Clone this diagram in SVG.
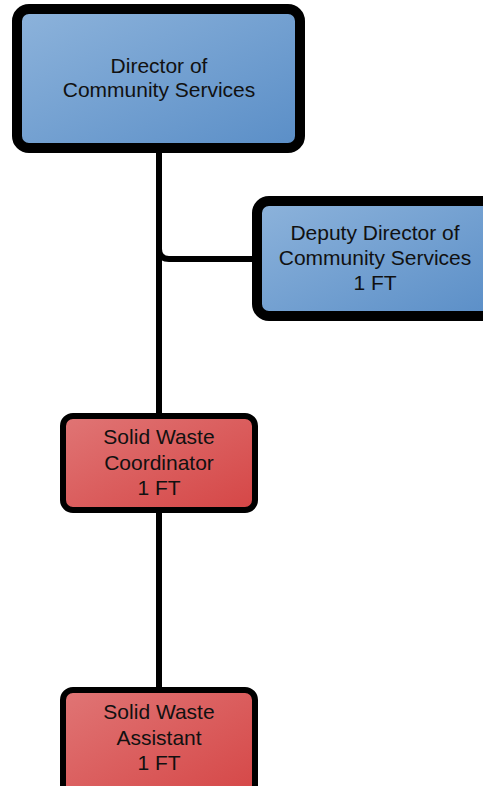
<svg xmlns="http://www.w3.org/2000/svg" width="483" height="786" viewBox="0 0 483 786">
<defs>
<linearGradient id="blue" x1="0" y1="0" x2="1" y2="1">
<stop offset="0" stop-color="#8DB3DB"/>
<stop offset="1" stop-color="#5A8EC7"/>
</linearGradient>
<linearGradient id="red" x1="0" y1="0" x2="1" y2="1">
<stop offset="0" stop-color="#E07575"/>
<stop offset="1" stop-color="#D54646"/>
</linearGradient>
<style>
.lbl{font-family:"Liberation Sans",Arial,sans-serif;font-size:21px;fill:#111;text-anchor:middle}
.conn{fill:none;stroke:#000;stroke-width:6}
.box{stroke:#000}
</style>
</defs>
<rect width="483" height="786" fill="#fff"/>
<g id="connectors">
<path class="conn" d="M159,148 V416"/>
<path class="conn" d="M159,249 Q159,259 169,259 H257"/>
<path class="conn" d="M159,510 V690"/>
</g>
<g id="director">
<rect class="box" x="17" y="9" width="283" height="139" rx="12" fill="url(#blue)" stroke-width="10"/>
<text class="lbl" x="159" y="73">Director of</text>
<text class="lbl" x="159" y="97">Community Services</text>
</g>
<g id="deputy">
<rect class="box" x="257" y="201" width="240" height="115" rx="12" fill="url(#blue)" stroke-width="10"/>
<text class="lbl" x="375" y="240">Deputy Director of</text>
<text class="lbl" x="375" y="265">Community Services</text>
<text class="lbl" x="375" y="290">1 FT</text>
</g>
<g id="coordinator">
<rect class="box" x="63" y="416" width="192" height="94" rx="10" fill="url(#red)" stroke-width="6"/>
<text class="lbl" x="159" y="444">Solid Waste</text>
<text class="lbl" x="159" y="470">Coordinator</text>
<text class="lbl" x="159" y="495">1 FT</text>
</g>
<g id="assistant">
<rect class="box" x="63" y="690" width="192" height="110" rx="10" fill="url(#red)" stroke-width="6"/>
<text class="lbl" x="159" y="719">Solid Waste</text>
<text class="lbl" x="159" y="745">Assistant</text>
<text class="lbl" x="159" y="770">1 FT</text>
</g>
</svg>
